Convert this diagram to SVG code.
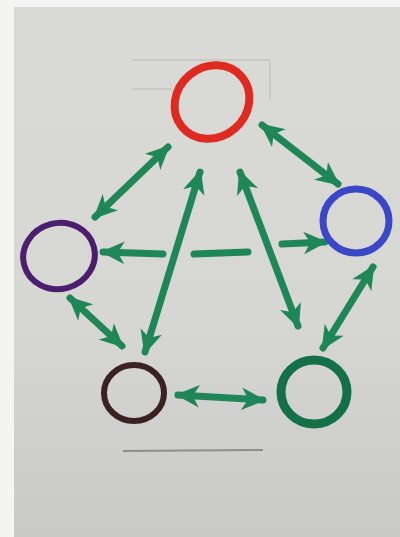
<svg xmlns="http://www.w3.org/2000/svg" width="400" height="537" viewBox="0 0 400 537">
<defs>
<linearGradient id="paper" x1="0" y1="0" x2="0" y2="1">
<stop offset="0" stop-color="#dadad6"/>
<stop offset="0.6" stop-color="#d6d6d3"/>
<stop offset="1" stop-color="#c9c9c8"/>
</linearGradient>
<marker id="ah" viewBox="0 0 10 10" refX="9" refY="5" markerWidth="3.4" markerHeight="3.4" orient="auto-start-reverse" markerUnits="strokeWidth">
<path d="M0,0.3 L10,5 L0,9.7 L2.8,5 z" fill="#1f8658"/>
</marker>
</defs>
<style>
.node{fill:none}
.conn{stroke:#1f8658;stroke-width:7;stroke-linecap:round;fill:none}
.faint{stroke:#c4c4c2;stroke-width:1.5;fill:none}
</style>
<rect x="0" y="0" width="400" height="537" fill="#f4f4f2"/>
<rect x="14" y="7" width="386" height="530" fill="url(#paper)"/>
<g id="paper-marks">
<line class="faint" x1="132" y1="60" x2="270" y2="60"/>
<line class="faint" x1="132" y1="89" x2="172" y2="89"/>
<line class="faint" x1="270" y1="60" x2="270" y2="100"/>
<line x1="123" y1="451" x2="263" y2="450" stroke="#8e8e8e" stroke-width="2"/>
</g>
<g id="connectors">
<line class="conn" x1="95" y1="217" x2="168" y2="147" marker-start="url(#ah)" marker-end="url(#ah)"/>
<line class="conn" x1="262" y1="125" x2="338" y2="184" marker-start="url(#ah)" marker-end="url(#ah)"/>
<line class="conn" x1="200" y1="172" x2="145" y2="352" marker-start="url(#ah)" marker-end="url(#ah)"/>
<line class="conn" x1="240" y1="172" x2="298" y2="326" marker-start="url(#ah)" marker-end="url(#ah)"/>
<line class="conn" x1="163" y1="254" x2="103" y2="252" marker-end="url(#ah)"/>
<line class="conn" x1="194" y1="254" x2="248" y2="252"/>
<line class="conn" x1="282" y1="244" x2="325" y2="242" marker-end="url(#ah)"/>
<line class="conn" x1="70" y1="298" x2="122" y2="346" marker-start="url(#ah)" marker-end="url(#ah)"/>
<line class="conn" x1="178" y1="395" x2="263" y2="400" marker-start="url(#ah)" marker-end="url(#ah)"/>
<line class="conn" x1="323" y1="348" x2="373" y2="267" marker-start="url(#ah)" marker-end="url(#ah)"/>
</g>
<g id="node-red"><ellipse class="node" cx="212" cy="102" rx="35" ry="39" transform="rotate(50 212 102)" stroke="#df2a22" stroke-width="8"/></g>
<g id="node-blue"><ellipse class="node" cx="356" cy="221" rx="33" ry="32" stroke="#3a47c6" stroke-width="7"/></g>
<g id="node-purple"><ellipse class="node" cx="59" cy="256" rx="36" ry="33" transform="rotate(-15 59 256)" stroke="#4b1f6d" stroke-width="6"/></g>
<g id="node-brown"><ellipse class="node" cx="134" cy="393" rx="30" ry="28" stroke="#3b2222" stroke-width="6"/></g>
<g id="node-green"><ellipse class="node" cx="314" cy="392" rx="33" ry="32" stroke="#137049" stroke-width="9"/></g>
</svg>
